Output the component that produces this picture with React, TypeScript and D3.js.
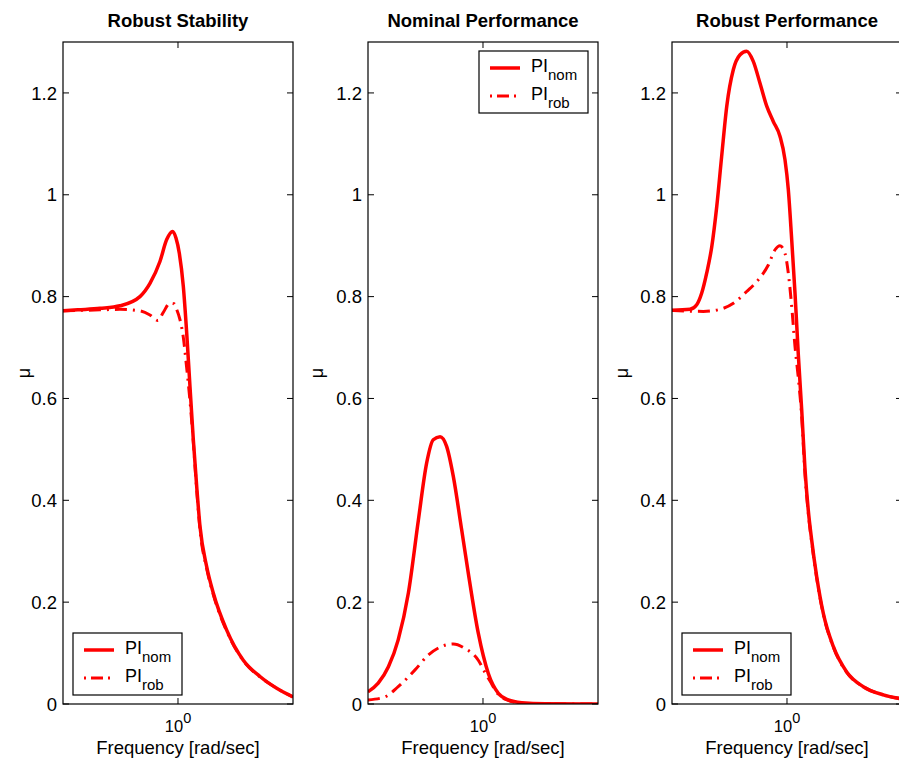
import React from "react";
import * as d3 from "d3";

// ---- Data ----
const titles = ["Robust Stability", "Nominal Performance", "Robust Performance"];
const yTicks = [0, 0.2, 0.4, 0.6, 0.8, 1, 1.2];
const yTickLabels = ["0", "0.2", "0.4", "0.6", "0.8", "1", "1.2"];
const xTicks = [1];
const legendLabels = ["nom", "rob"];

// Robust Stability
const rsFreqNom = [0.251, 0.3, 0.392, 0.498, 0.633, 0.714, 0.805, 0.873, 0.938, 0.976, 1.016, 1.066, 1.110, 1.155, 1.202, 1.252, 1.303, 1.411, 1.528, 1.795, 2.191, 2.678, 3.273, 3.981];
const rsNom = [0.772, 0.774, 0.777, 0.782, 0.800, 0.826, 0.869, 0.912, 0.928, 0.915, 0.885, 0.820, 0.729, 0.623, 0.519, 0.427, 0.348, 0.270, 0.218, 0.145, 0.086, 0.054, 0.031, 0.014];
const rsFreqRob = [0.251, 0.392, 0.498, 0.633, 0.714, 0.786, 0.835, 0.908, 0.953, 0.984, 1.024, 1.066, 1.110, 1.155, 1.202, 1.252, 1.303, 1.411, 1.528, 1.795, 2.191, 2.678, 3.273, 3.981];
const rsRob = [0.772, 0.774, 0.775, 0.772, 0.764, 0.753, 0.768, 0.787, 0.786, 0.775, 0.755, 0.72, 0.66, 0.595, 0.515, 0.42, 0.342, 0.266, 0.215, 0.143, 0.085, 0.053, 0.031, 0.014];

// Nominal Performance
const npFreqNom = [0.251, 0.284, 0.321, 0.361, 0.408, 0.460, 0.508, 0.550, 0.597, 0.646, 0.700, 0.774, 0.838, 0.945, 1.066, 1.202, 1.355, 1.592, 2.106, 3.981];
const npNom = [0.024, 0.041, 0.073, 0.126, 0.218, 0.361, 0.473, 0.519, 0.525, 0.506, 0.447, 0.342, 0.257, 0.139, 0.060, 0.021, 0.008, 0.0025, 0.0003, 0];
const npFreqRob = [0.251, 0.308, 0.361, 0.442, 0.518, 0.609, 0.700, 0.806, 0.945, 1.024, 1.088, 1.202, 1.355, 1.592, 2.106, 3.981];
const npRob = [0.008, 0.014, 0.034, 0.067, 0.096, 0.113, 0.118, 0.109, 0.086, 0.062, 0.045, 0.019, 0.007, 0.002, 0.0003, 0];

// Robust Performance
const rpFreqNom = [0.251, 0.312, 0.338, 0.359, 0.381, 0.405, 0.430, 0.456, 0.485, 0.525, 0.569, 0.616, 0.667, 0.723, 0.784, 0.848, 0.919, 0.976, 1.016, 1.058, 1.101, 1.146, 1.193, 1.242, 1.291, 1.345, 1.429, 1.547, 1.744, 2.049, 2.501, 3.180, 3.981];
const rpNom = [0.773, 0.775, 0.784, 0.807, 0.846, 0.898, 0.977, 1.075, 1.174, 1.246, 1.275, 1.282, 1.262, 1.219, 1.174, 1.144, 1.115, 1.069, 1.010, 0.912, 0.807, 0.685, 0.578, 0.460, 0.381, 0.322, 0.250, 0.178, 0.113, 0.063, 0.034, 0.018, 0.010];
const rpFreqRob = [0.251, 0.366, 0.447, 0.525, 0.616, 0.708, 0.799, 0.866, 0.919, 0.976, 1.016, 1.058, 1.101, 1.146, 1.193, 1.242, 1.291, 1.345, 1.429, 1.547, 1.744, 2.049, 2.501, 3.180, 3.981];
const rpRob = [0.773, 0.771, 0.775, 0.787, 0.810, 0.833, 0.862, 0.892, 0.900, 0.885, 0.846, 0.781, 0.702, 0.640, 0.565, 0.450, 0.375, 0.318, 0.247, 0.176, 0.112, 0.062, 0.034, 0.018, 0.010];

const panels = [
  { title: titles[0], fNom: rsFreqNom, nom: rsNom, fRob: rsFreqRob, rob: rsRob, legend: "bottom", ylabX: 30 },
  { title: titles[1], fNom: npFreqNom, nom: npNom, fRob: npFreqRob, rob: npRob, legend: "top", ylabX: 323 },
  { title: titles[2], fNom: rpFreqNom, nom: rpNom, fRob: rpFreqRob, rob: rpRob, legend: "bottom", ylabX: 628 },
];

// ---- Layout ----
const W = 899;
const H = 763;
const axLeft = [63, 368, 672];
const axW = 230;
const axTop = 42;
const axBottom = 704;
const FONT = "'Liberation Sans', Arial, Helvetica, sans-serif";
const RED = "#ff0000";
const ROB_DASH = "12,6,2,6";

function Panel({ p, i }: { p: any; i: number }) {
  const x0 = axLeft[i];
  const x = d3.scaleLog().domain([0.2512, 3.981]).range([x0, x0 + axW]);
  const y = d3.scaleLinear().domain([0, 1.3]).range([axBottom, axTop]);
  const line = d3
    .line<[number, number]>()
    .x((d) => x(d[0]))
    .y((d) => y(d[1]))
    .curve(d3.curveMonotoneX);
  const nomPts = p.fNom.map((f: number, k: number) => [f, p.nom[k]] as [number, number]);
  const robPts = p.fRob.map((f: number, k: number) => [f, p.rob[k]] as [number, number]);
  const clipId = `clip${i}`;
  const tick = 6;

  const lgW = 109;
  const lgH = 62;
  const lgY = p.legend === "top" ? 51 : axBottom - 71;
  const lgXr = p.legend === "top" ? x0 + axW - lgW - 10 : x0 + 10;

  return (
    <g>
      <defs>
        <clipPath id={clipId}>
          <rect x={x0} y={axTop} width={axW} height={axBottom - axTop} />
        </clipPath>
      </defs>
      <rect x={x0} y={axTop} width={axW} height={axBottom - axTop} fill="#fff" />
      <g clipPath={`url(#${clipId})`}>
        <path d={line(robPts) || ""} fill="none" stroke={RED} strokeWidth={3} strokeDasharray={ROB_DASH} />
        <path d={line(nomPts) || ""} fill="none" stroke={RED} strokeWidth={3.5} />
      </g>
      {/* box */}
      <rect x={x0} y={axTop} width={axW} height={axBottom - axTop} fill="none" stroke="#000" strokeWidth={1.2} />
      {/* y ticks */}
      {yTicks.map((t, k) => (
        <g key={k}>
          <line x1={x0} x2={x0 + tick} y1={y(t)} y2={y(t)} stroke="#000" strokeWidth={1} />
          <line x1={x0 + axW} x2={x0 + axW - tick} y1={y(t)} y2={y(t)} stroke="#000" strokeWidth={1} />
          <text x={x0 - 6} y={y(t)} dy="0.36em" textAnchor="end" fontSize={18.5} fontFamily={FONT}>
            {yTickLabels[k]}
          </text>
        </g>
      ))}
      {/* x ticks */}
      {xTicks.map((t, k) => (
        <g key={k}>
          <line x1={x(t)} x2={x(t)} y1={axBottom} y2={axBottom - tick} stroke="#000" strokeWidth={1} />
          <line x1={x(t)} x2={x(t)} y1={axTop} y2={axTop + tick} stroke="#000" strokeWidth={1} />
          <text x={x(t)} y={732} textAnchor="middle" fontSize={16.5} fontFamily={FONT}>
            10<tspan fontSize={14.5} dy={-9}>0</tspan>
          </text>
        </g>
      ))}
      {/* title */}
      <text x={x0 + axW / 2} y={27} textAnchor="middle" fontSize={18.5} fontWeight="bold" fontFamily={FONT}>
        {p.title}
      </text>
      {/* x label */}
      <text x={x0 + axW / 2} y={754} textAnchor="middle" fontSize={18.5} fontFamily={FONT}>
        Frequency [rad/sec]
      </text>
      {/* y label */}
      <text
        transform={`translate(${p.ylabX},${(axTop + axBottom) / 2}) rotate(-90)`}
        textAnchor="middle"
        fontSize={18}
        fontFamily={FONT}
      >
        μ
      </text>
      {/* legend */}
      <g transform={`translate(${lgXr},${lgY})`}>
        <rect x={0} y={0} width={lgW} height={lgH} fill="#fff" stroke="#000" strokeWidth={1.2} />
        <line x1={11} x2={41} y1={17} y2={17} stroke={RED} strokeWidth={3.5} />
        <line x1={11} x2={41} y1={45} y2={45} stroke={RED} strokeWidth={3} strokeDasharray="2,5,12,5" />
        <text x={52} y={21} fontSize={18} fontFamily={FONT}>
          PI<tspan fontSize={15} dy={8}>{legendLabels[0]}</tspan>
        </text>
        <text x={52} y={49} fontSize={18} fontFamily={FONT}>
          PI<tspan fontSize={15} dy={8}>{legendLabels[1]}</tspan>
        </text>
      </g>
    </g>
  );
}

export default function App() {
  return (
    <svg
      width={W}
      height={H}
      viewBox={`0 0 ${W} ${H}`}
      style={{ position: "absolute", left: 0, top: 0, background: "#fff" }}
    >
      <rect x={0} y={0} width={W} height={H} fill="#fff" />
      {panels.map((p, i) => (
        <Panel key={i} p={p} i={i} />
      ))}
    </svg>
  );
}
